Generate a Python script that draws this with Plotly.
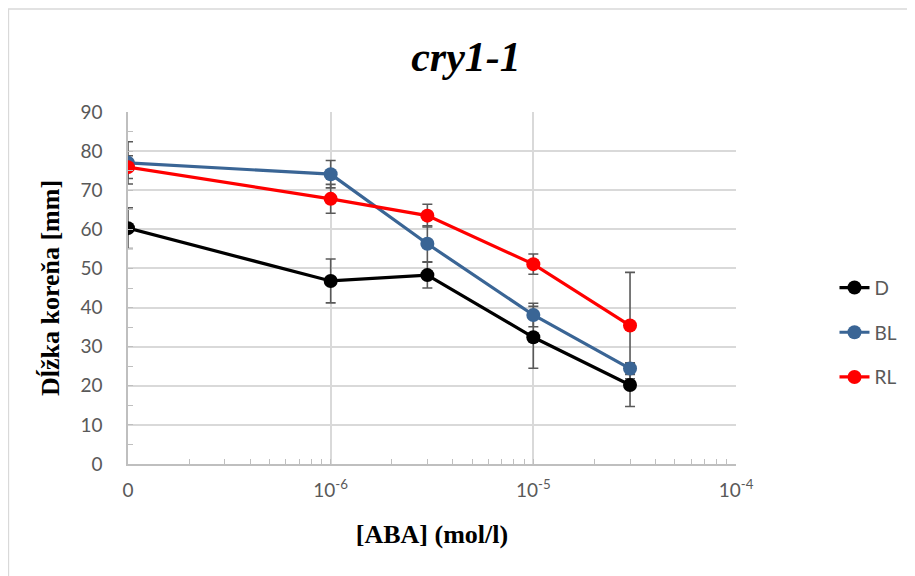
import plotly.graph_objects as go

# ABA concentration (mol/l); the "0" control is placed at the 1e-7 position of the log axis
conc_positions = [1e-7, 1e-6, 3e-6, 1e-5, 3e-5]

series_names = ["D", "BL", "RL"]
d_values = [60.3, 46.8, 48.3, 32.4, 20.2]
d_errors = [5.2, 5.6, 3.3, 7.9, 5.5]
bl_values = [77.0, 74.1, 56.3, 38.1, 24.4]
bl_errors = [5.4, 3.5, 4.6, 3.0, 1.5]
rl_values = [75.9, 67.8, 63.5, 51.1, 35.4]
rl_errors = [2.9, 3.7, 2.9, 2.6, 13.6]

x_tick_vals = [1e-7, 1e-6, 1e-5, 1e-4]
x_tick_text = ["0", "10<sup>-6</sup>", "10<sup>-5</sup>", "10<sup>-4</sup>"]

colors = ["#000000", "#3a6595", "#ff0000"]
values = [d_values, bl_values, rl_values]
errors = [d_errors, bl_errors, rl_errors]

fig = go.Figure()

# error bars first (drawn beneath all markers)
for name, vals, errs in zip(series_names, values, errors):
    fig.add_trace(go.Scatter(
        x=conc_positions, y=vals, mode="markers",
        marker=dict(size=1, opacity=0),
        error_y=dict(type="data", array=errs, visible=True,
                     color="#595959", thickness=1.6, width=5),
        showlegend=False, hoverinfo="skip"))

for i, (name, vals, col) in enumerate(zip(series_names, values, colors)):
    fig.add_trace(go.Scatter(
        x=conc_positions, y=vals, mode="lines+markers", name=name,
        line=dict(color=col, width=3.2),
        marker=dict(color=col, size=14),
        legendgroup=name))

minor_x = [m * 10 ** e for e in (-7, -6, -5) for m in range(2, 10)]

fig.update_layout(
    width=907, height=568,
    margin=dict(l=120, r=177, t=104, b=112),
    paper_bgcolor="white", plot_bgcolor="white",
    title=dict(text="<b><i>cry1-1</i></b>", x=0.505, xanchor="center",
               y=0.915, yanchor="middle",
               font=dict(family="Liberation Serif", size=42, color="black")),
    legend=dict(x=1.162, xanchor="left", y=0.373, yanchor="middle",
                font=dict(family="Lato", size=19, color="#595959"),
                tracegroupgap=17, bgcolor="rgba(0,0,0,0)"),
    shapes=[dict(type="rect", xref="paper", yref="paper",
                 x0=-0.1967, x1=1.5, y0=-0.5, y1=1.2926,
                 line=dict(color="#d9d9d9", width=1.5), layer="below")],
)

fig.update_xaxes(
    type="log", range=[-7, -4],
    tickmode="array", tickvals=x_tick_vals, ticktext=x_tick_text,
    showgrid=True, gridcolor="#d9d9d9", gridwidth=1.5,
    showline=True, linecolor="#bfbfbf", linewidth=1.5,
    ticks="inside", ticklen=5, tickcolor="#bfbfbf",
    minor=dict(tickmode="array", tickvals=minor_x, ticks="inside",
               ticklen=5, tickcolor="#bfbfbf", showgrid=False),
    tickfont=dict(family="Lato", size=19, color="#595959"),
    ticklabelstandoff=8,
    title=dict(text="<b>[ABA] (mol/l)</b>", standoff=25,
               font=dict(family="Liberation Serif", size=26, color="black")),
    zeroline=False,
)

fig.update_yaxes(
    range=[0, 90], dtick=10,
    showgrid=True, gridcolor="#d9d9d9", gridwidth=1.5,
    showline=True, linecolor="#bfbfbf", linewidth=1.5,
    ticks="inside", ticklen=5, tickcolor="#bfbfbf",
    minor=dict(dtick=5, ticks="inside", ticklen=5, tickcolor="#bfbfbf",
               showgrid=False),
    tickfont=dict(family="Lato", size=19, color="#595959"),
    ticklabelstandoff=20,
    title=dict(text="<b>Dĺžka koreňa [mm]</b>", standoff=13,
               font=dict(family="Liberation Serif", size=26, color="black")),
    zeroline=False,
)

fig.write_html("out.html")
